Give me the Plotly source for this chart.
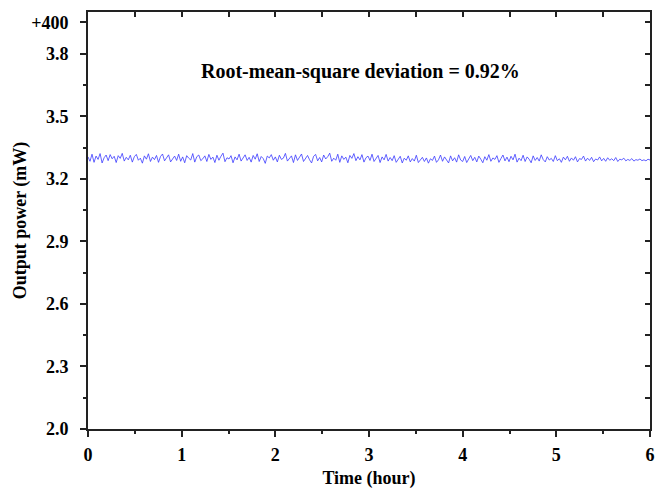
import numpy as np
import plotly.graph_objects as go

# Output power readings (mW), sampled evenly over 6 hours
power = [
3.305,3.284,3.318,3.279,3.309,3.293,3.321,3.276,3.301,3.314,
3.287,3.316,3.296,3.308,3.278,3.311,3.298,3.322,3.285,3.303,
3.291,3.313,3.280,3.306,3.317,3.289,3.299,3.275,3.310,3.294,
3.320,3.283,3.304,3.292,3.312,3.279,3.307,3.319,3.286,3.300,
3.315,3.281,3.297,3.309,3.288,3.318,3.284,3.305,3.277,3.311,
3.299,3.290,3.321,3.280,3.306,3.314,3.287,3.296,3.310,3.283,
3.317,3.293,3.304,3.278,3.313,3.289,3.308,3.323,3.282,3.301,
3.295,3.311,3.277,3.305,3.291,3.318,3.285,3.299,3.315,3.288,
3.303,3.280,3.312,3.294,3.320,3.283,3.307,3.297,3.274,3.309,
3.300,3.316,3.289,3.305,3.281,3.313,3.293,3.299,3.322,3.285,
3.296,3.310,3.278,3.315,3.288,3.304,3.319,3.283,3.300,3.312,
3.291,3.276,3.308,3.317,3.286,3.302,3.281,3.314,3.295,3.306,
3.323,3.284,3.299,3.289,3.318,3.279,3.310,3.293,3.304,3.277,
3.312,3.298,3.321,3.287,3.306,3.291,3.316,3.280,3.301,3.309,
3.288,3.318,3.283,3.296,3.312,3.278,3.305,3.291,3.317,3.285,
3.302,3.287,3.311,3.279,3.294,3.308,3.276,3.299,3.289,3.310,
3.281,3.297,3.285,3.313,3.278,3.292,3.303,3.283,3.300,3.275,
3.296,3.288,3.309,3.279,3.291,3.314,3.284,3.305,3.292,3.276,
3.310,3.286,3.301,3.280,3.315,3.290,3.283,3.307,3.278,3.298,
3.312,3.287,3.303,3.281,3.309,3.294,3.277,3.306,3.289,3.316,
3.284,3.300,3.293,3.311,3.279,3.297,3.314,3.286,3.304,3.282,
3.308,3.291,3.318,3.280,3.299,3.287,3.313,3.283,3.305,3.294,
3.277,3.310,3.288,3.302,3.285,3.315,3.292,3.281,3.306,3.290,
3.298,3.283,3.311,3.287,3.296,3.279,3.304,3.291,3.308,3.284,
3.300,3.289,3.306,3.281,3.297,3.293,3.309,3.285,3.299,3.288,
3.303,3.282,3.295,3.290,3.305,3.286,3.298,3.284,3.301,3.289,
3.296,3.287,3.302,3.283,3.294,3.291,3.299,3.286,3.293,3.288,
3.297,3.285,3.292,3.289,3.295,3.287,3.291,3.286,3.294,3.290,
]
t_start, t_end = 0.0, 6.0
time_h = np.linspace(t_start, t_end, len(power))

y_tickvals = [2.0, 2.3, 2.6, 2.9, 3.2, 3.5, 3.8, 3.95]
y_ticktext = ["2.0", "2.3", "2.6", "2.9", "3.2", "3.5", "3.8", "+400"]
x_tickvals = [0, 1, 2, 3, 4, 5, 6]
x_ticktext = ["0", "1", "2", "3", "4", "5", "6"]
annotation_text = "Root-mean-square deviation = 0.92%"

FONT = "Liberation Serif"
tickfont = dict(family=FONT, size=18, color="black", weight="bold")
titlefont = dict(family=FONT, size=18, color="black", weight="bold")

fig = go.Figure()
fig.add_trace(go.Scatter(x=time_h, y=power, mode="lines",
                         line=dict(color="#3a3aff", width=0.8),
                         showlegend=False, hoverinfo="skip"))
# empty trace to anchor the mirrored top/right axes
fig.add_trace(go.Scatter(x=[None], y=[None], xaxis="x2", yaxis="y2",
                         showlegend=False, hoverinfo="skip"))

fig.update_layout(
    width=660, height=482,
    margin=dict(l=80, r=18, t=4, b=61),
    paper_bgcolor="white", plot_bgcolor="white",
    xaxis=dict(range=[0, 6], tickvals=x_tickvals, ticktext=x_ticktext, automargin=False,
               ticks="outside", ticklen=6, tickwidth=1.5, tickcolor="#222",
               minor=dict(dtick=0.5, ticks="outside", ticklen=3, tickwidth=1.5, tickcolor="#222"),
               showline=True, linecolor="#222", linewidth=2, showgrid=False, zeroline=False,
               tickfont=tickfont, ticklabelstandoff=2,
               title=dict(text="Time (hour)", font=titlefont, standoff=8)),
    yaxis=dict(range=[2.0, 4.0], tickvals=y_tickvals, ticktext=y_ticktext, automargin=False,
               ticks="outside", ticklen=6, tickwidth=1.5, tickcolor="#222",
               minor=dict(tickvals=[2.15, 2.45, 2.75, 3.05, 3.35, 3.65], ticks="outside",
                          ticklen=3, tickwidth=1.5, tickcolor="#222"),
               showline=True, linecolor="#222", linewidth=2, showgrid=False, zeroline=False,
               tickfont=tickfont, ticklabelstandoff=8,
               title=dict(text="Output power (mW)", font=titlefont, standoff=0)),
    xaxis2=dict(range=[0, 6], overlaying="x", side="top", anchor="y2", automargin=False,
                tickvals=[0.5, 1, 1.5, 2, 2.5, 3, 3.5, 4, 4.5, 5, 5.5],
                ticks="inside", ticklen=5, tickwidth=1.5, tickcolor="#222",
                showticklabels=False, showline=True, linecolor="#222", linewidth=2,
                showgrid=False, zeroline=False),
    yaxis2=dict(range=[2.0, 4.0], overlaying="y", side="right", anchor="x2", automargin=False,
                tickvals=[2.15, 2.3, 2.45, 2.6, 2.75, 2.9, 3.05, 3.2, 3.35, 3.5, 3.65, 3.8, 3.95],
                ticks="inside", ticklen=5, tickwidth=1.5, tickcolor="#222",
                showticklabels=False, showline=True, linecolor="#222", linewidth=2,
                showgrid=False, zeroline=False),
    annotations=[dict(text=annotation_text, x=2.91, y=3.715, xref="x", yref="y",
                      showarrow=False,
                      font=dict(family=FONT, size=20, color="black", weight="bold"))],
)

fig.write_html("out.html")
